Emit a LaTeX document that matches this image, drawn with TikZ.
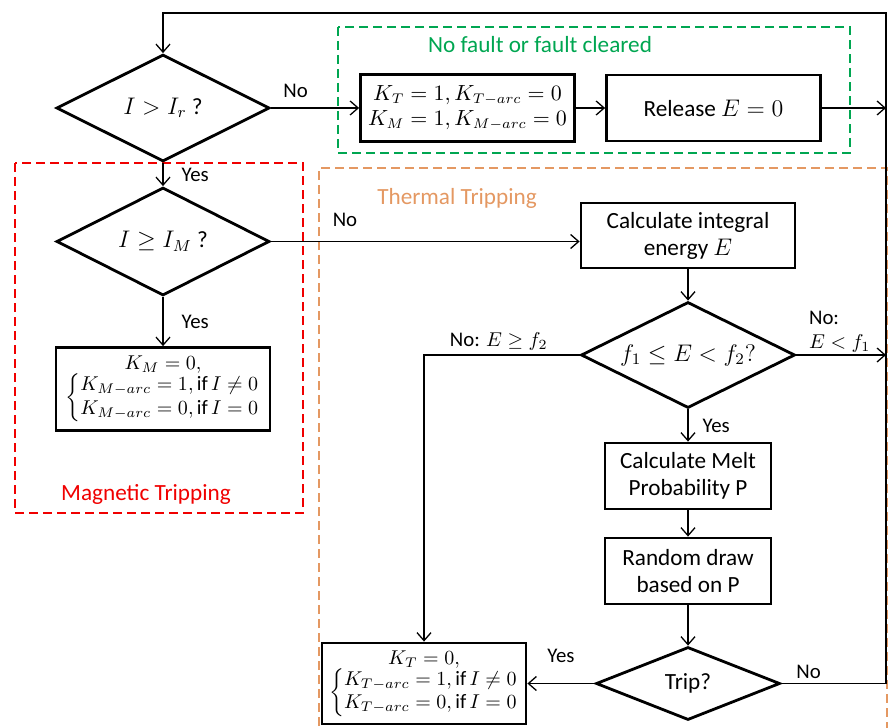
\documentclass[tikz,border=0pt]{standalone}
\usepackage{amsmath}
\usepackage{fontspec}
\setmainfont{Carlito}
\usetikzlibrary{positioning, shapes.geometric, arrows.meta}

\definecolor{faultgreen}{RGB}{0,166,81}
\definecolor{magred}{RGB}{240,0,0}
\definecolor{thermorange}{RGB}{228,152,98}

\begin{document}
\begin{tikzpicture}[x=0.5pt, y=-0.5pt,
        box/.style={rectangle, draw=black, line width=1.4pt, minimum width=107pt, minimum height=33pt, inner sep=1.5pt, align=center, font=\fontsize{11.6}{13.5}\selectfont},
        mathbox/.style={box, font=\fontsize{10.2}{11.8}\selectfont},
        decision/.style={diamond, aspect=2, draw=black, line width=1.4pt, inner sep=0pt, font=\fontsize{11.6}{14}\selectfont},
        arrow/.style={-{Straight Barb[length=4pt, width=7pt]}, line width=0.65pt},
        lbl/.style={font=\fontsize{10.4}{12}\selectfont, inner sep=2pt},
        zone/.style={dash pattern=on 4.5pt off 2.5pt, line width=1pt},
        zonelbl/.style={font=\fontsize{11.6}{14}\selectfont, anchor=base}
    ]
        \useasboundingbox (0,0) rectangle (892,727);

        % dashed zones
        \draw[zone, faultgreen] (338,27) rectangle (850,153);
        \node[zonelbl, faultgreen] (faultlbl) at (540,53) {No fault or fault cleared};
        \draw[zone, magred] (15,163) rectangle (303,513);
        \node[zonelbl, magred] (maglbl) at (146,500) {Magnetic Tripping};
        \draw[zone, thermorange] (319,740) -- (319,168) -- (887,168) -- (887,740);
        \node[zonelbl, thermorange] (thermlbl) at (457,205) {Thermal Tripping};

        % left column
        \node[decision, minimum width=106.5pt, minimum height=53.5pt] (irq) at (163,108) {$I > I_r$ ?};
        \node[decision, minimum width=106.5pt, minimum height=54pt, below=11.6pt of irq] (imq) {$I \geq I_M$ ?};
        \node[mathbox, minimum height=41.5pt, below=24.6pt of imq] (magtrip) {$K_M = 0,$\\[-1pt]
            $\left\{\begin{array}{@{}l@{}}K_{M-arc} = 1, \mathrm{if}\, I \neq 0\\ K_{M-arc} = 0, \mathrm{if}\, I = 0\end{array}\right.$};

        % top row
        \node[mathbox, minimum height=33.5pt, font=\fontsize{10.6}{12.5}\selectfont, right=44.1pt of irq] (reset) {$K_T = 1, K_{T-arc} = 0$\\$K_M = 1, K_{M-arc} = 0$};
        \node[box, right=14.6pt of reset] (release) {Release $E = 0$};
        \coordinate (loop) at (886,13);

        % thermal column
        \node[box, minimum height=32.5pt] (energy) at (688,235.5) {Calculate integral\\energy $E$};
        \node[decision, minimum width=107pt, minimum height=53pt, below=15.6pt of energy] (fq) {$f_1 \leq E < f_2?$};
        \node[box, minimum width=83pt, below=16.1pt of fq] (melt) {Calculate Melt\\Probability P};
        \node[box, minimum width=83pt, below=13.1pt of melt] (rand) {Random draw\\based on P};
        \node[decision, minimum width=92pt, minimum height=36.5pt, below=20.1pt of rand] (trip) {Trip?};
        \node[mathbox, minimum width=102pt, minimum height=40.5pt, left=33.6pt of trip] (thermtrip) {$K_T = 0,$\\[-1pt]
            $\left\{\begin{array}{@{}l@{}}K_{T-arc} = 1, \mathrm{if}\, I \neq 0\\ K_{T-arc} = 0, \mathrm{if}\, I = 0\end{array}\right.$};

        \draw[arrow] (irq.east) -- node[lbl, above=3pt, pos=0.28] {No} (irq.east -| reset.west);
        \draw[arrow] (reset.east) -- (release.west);
        \draw[arrow] (release.east) -- (release.east -| loop);
        \draw[arrow] (irq.south) -- node[lbl, right, xshift=7pt] {Yes} (imq.north);
        \draw[arrow] (imq.south) -- node[lbl, right, xshift=7pt] {Yes} (magtrip.north);
        \draw[arrow] (imq.east) -- node[lbl, above=5pt, pos=0.24] {No} (imq.east -| energy.west);
        \draw[arrow] (energy) -- (fq);
        \draw[arrow] (fq.east) -- node[lbl, anchor=south west, align=left, inner sep=1pt, pos=0, xshift=5pt] {No:\\$E < f_1$} (fq.east -| loop);
        \draw[arrow] (fq.west) -| node[lbl, above, pos=0.26] {No: $E \geq f_2$} (thermtrip.north);
        \draw[arrow] (fq.south) -- node[lbl, right, xshift=5pt] {Yes} (melt.north);
        \draw[arrow] (melt) -- (rand);
        \draw[arrow] (rand) -- (trip);
        \draw[arrow] (trip.west) -- node[lbl, above=8pt] {Yes} (thermtrip.east);
        \draw[arrow] (trip.east) -| node[lbl, above, pos=0.13] {No} (loop) -| (irq.north);
    \end{tikzpicture}
\end{document}
